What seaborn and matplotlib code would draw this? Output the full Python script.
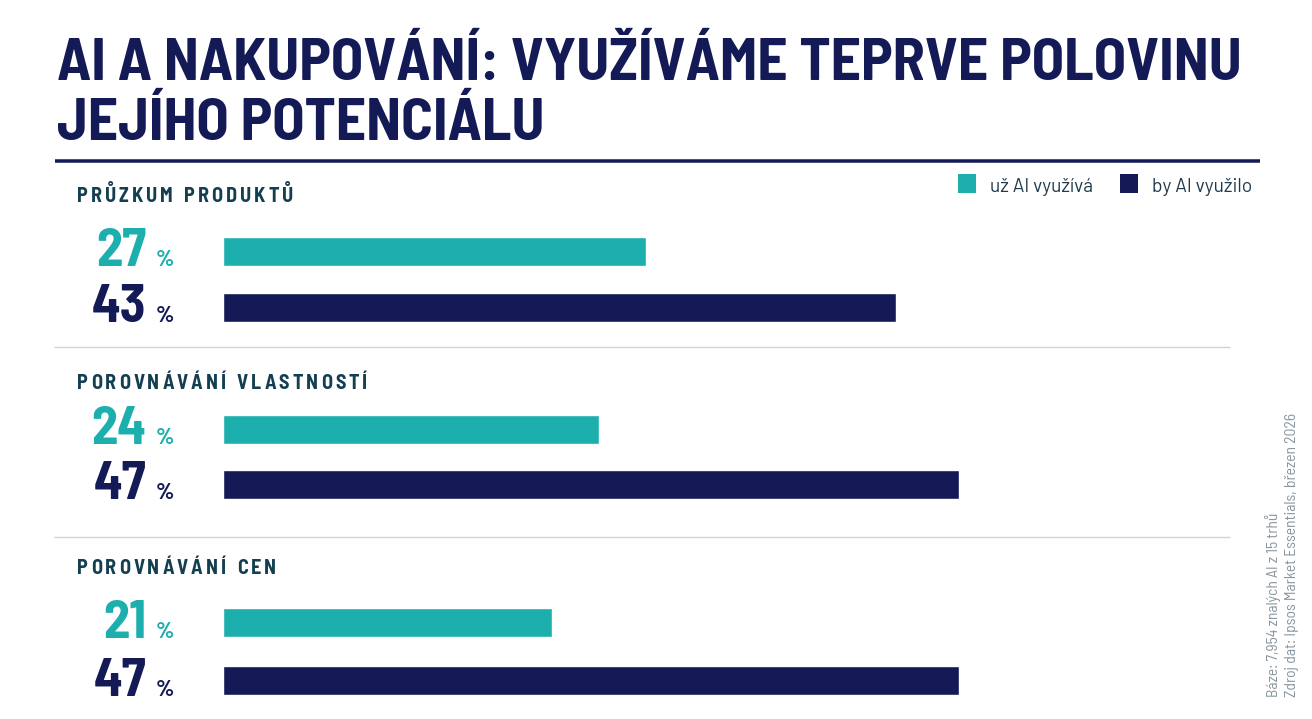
import matplotlib
matplotlib.use("Agg")
import matplotlib.pyplot as plt
from matplotlib.patches import Rectangle
from matplotlib.lines import Line2D
from matplotlib.font_manager import FontProperties
from matplotlib import transforms
import seaborn as sns
import pandas as pd

# ---------------- data ----------------
title_lines = ["AI A NAKUPOVÁNÍ: VYUŽÍVÁME TEPRVE POLOVINU", "JEJÍHO POTENCIÁLU"]
categories = ["PRŮZKUM PRODUKTŮ", "POROVNÁVÁNÍ VLASTNOSTÍ", "POROVNÁVÁNÍ CEN"]
series = ["už AI využívá", "by AI využilo"]
uses_now = [27, 24, 21]
would_use = [43, 47, 47]
notes = ["Báze: 7,954 znalých AI z 15 trhů",
         "Zdroj dat: Ipsos Market Essentials, březen 2026"]

# ---------------- style ----------------
W, H = 1312, 719
TEAL = "#1DAFAE"
NAVY = "#131A56"
LABEL = "#133F50"
GRID = "#CCD5DC"
NOTE = "#8795A0"
LEGTXT = "#1F3A4C"
FONT = "Barlow Semi Condensed"

sns.set_theme(style="white")
plt.rcParams["font.family"] = [FONT, "DejaVu Sans"]

fig = plt.figure(figsize=(W / 100, H / 100), dpi=100)
fig.patch.set_facecolor("white")
renderer = fig.canvas.get_renderer()


def fx(x):
    return x / W


def fy(y):
    return 1 - y / H


def text_px(x, y, s, **kw):
    return fig.text(fx(x), fy(y), s, **kw)


def fit(t, target):
    w = t.get_window_extent(renderer).width
    t.set_fontsize(t.get_fontsize() * target / w)
    return t


def char_w(ch, fp):
    if ch == " ":
        return fp.get_size_in_points() * 100 / 72 * 0.25
    return renderer.get_text_width_height_descent(ch, fp, ismath=False)[0]


def spaced(x, y, s, spacing, fp, **kw):
    cur = x
    for ch in s:
        if ch != " ":
            text_px(cur, y, ch, fontproperties=fp, ha="left", va="baseline", **kw)
        cur += char_w(ch, fp) + spacing


# ---------------- title ----------------
t1 = text_px(57, 80, title_lines[0], fontsize=42, fontweight="bold",
             color=NAVY, ha="left", va="baseline")
fit(t1, 1185)
text_px(57, 140, title_lines[1], fontsize=t1.get_fontsize(), fontweight="bold",
        color=NAVY, ha="left", va="baseline")
fig.add_artist(Line2D([fx(55), fx(1260)], [fy(161)] * 2, color=NAVY,
                      lw=3.5 * 0.72, solid_capstyle="butt"))

# ---------------- legend ----------------
leg_size = None
for (sx, tx), col, lab in zip([(958, 990), (1120, 1152)], [TEAL, NAVY], series):
    fig.add_artist(Rectangle((fx(sx), fy(193)), 18 / W, 19 / H,
                             transform=fig.transFigure, color=col, lw=0))
    t = text_px(tx, 192.5, lab, fontsize=13, color=LEGTXT, ha="left",
                va="baseline", family=["Barlow", FONT, "DejaVu Sans"])
    if leg_size is None:
        fit(t, 103)
        leg_size = t.get_fontsize()
    else:
        t.set_fontsize(leg_size)

# ---------------- groups ----------------
PX_PER_PCT = 15.67
X0, X1 = 223, 1230
layout = [  # (header baseline, bar centre 1, bar centre 2)
    (201.5, 251.2, 307.2),
    (389.0, 429.5, 484.5),
    (574.0, 622.5, 680.5),
]

hdr_fp = FontProperties(family=FONT, weight="bold", size=14.5)
widths = [char_w(c, hdr_fp) for c in categories[0]]
spacing = (216 - sum(widths)) / (len(categories[0]) - 1)

for i, (hy, c0, c1) in enumerate(layout):
    d = c1 - c0
    top, bottom = c0 - d / 2, c1 + d / 2
    ax = fig.add_axes([fx(X0 - 0.5), fy(bottom), (X1 - X0) / W, (bottom - top) / H])
    df = pd.DataFrame({"series": series, "value": [uses_now[i], would_use[i]]})
    sns.barplot(data=df, x="value", y="series", hue="series",
                palette=[TEAL, NAVY], orient="h", width=29 / d,
                saturation=1, legend=False, ax=ax)
    ax.set_xlim(0, (X1 - X0) / PX_PER_PCT)
    ax.set_ylim(1.5, -0.5)
    ax.axis("off")

    blend = transforms.blended_transform_factory(fig.transFigure, ax.transData)
    for j, (val, col) in enumerate(zip(df["value"], [TEAL, NAVY])):
        yb = j + 15 / d
        ax.text(fx(146), yb, f"{val}", transform=blend, ha="right", va="baseline",
                fontsize=38, fontweight="bold", color=col, clip_on=False)
        ax.text(fx(156), yb, "%", transform=blend, ha="left", va="baseline",
                fontsize=16.5, fontweight="bold", color=col, clip_on=False)

    spaced(77, hy, categories[i], spacing, hdr_fp, color=LABEL)

for sy in (347, 536.5):
    fig.add_artist(Line2D([fx(54), fx(1230)], [fy(sy)] * 2, color=GRID,
                          lw=1.0, solid_capstyle="butt"))

# ---------------- notes ----------------
n2 = text_px(1292, 697, notes[1], fontsize=11, color=NOTE, ha="center", va="bottom")
fit(n2, 284)
n2.set_rotation(90)
text_px(1273, 697, notes[0], fontsize=n2.get_fontsize(), color=NOTE,
        ha="center", va="bottom", rotation=90)

fig.savefig("out.png", dpi=100, facecolor="white")
